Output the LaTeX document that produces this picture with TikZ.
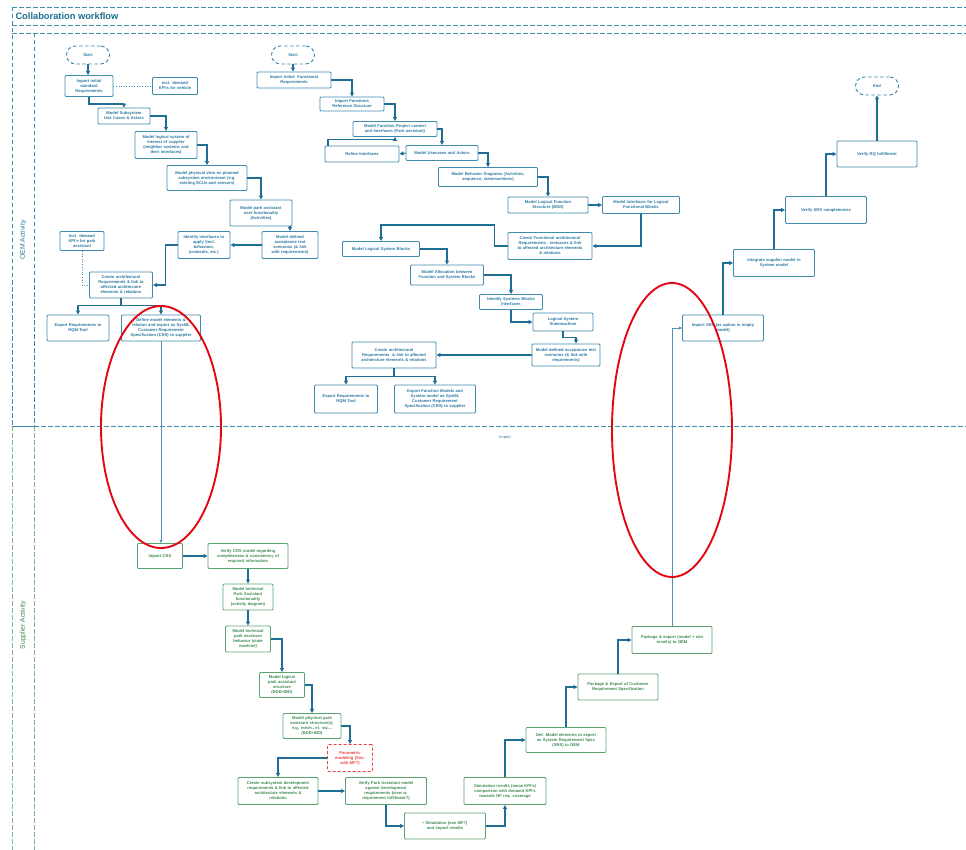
\documentclass[tikz,border=0pt]{standalone}
\usepackage{fontspec}
\setmainfont{Liberation Sans}
\usetikzlibrary{arrows.meta}

\definecolor{oemline}{HTML}{3F8BAE}
\definecolor{oemtext}{HTML}{2A77A0}
\definecolor{arrowc}{HTML}{1E6E96}
\definecolor{supline}{HTML}{5BA36E}
\definecolor{suptext}{HTML}{3A8A4E}
\definecolor{redc}{HTML}{E30613}
\definecolor{redbox}{HTML}{E8423F}
\definecolor{lanesup}{HTML}{7DB68A}
\definecolor{titlec}{HTML}{1B6F92}

\begin{document}
\begin{tikzpicture}[x=1pt,y=-1pt,
  bfont/.style={font=\fontsize{4.1}{5}\selectfont\bfseries},
  base/.style={align=center, inner xsep=2pt, inner ysep=1pt, line width=0.95pt, rounded corners=1pt, bfont},
  obox/.style={base, draw=oemline, text=oemtext},
  sbox/.style={base, draw=supline, text=suptext},
  sz/.style 2 args={text width=#1pt, minimum height=#2pt},
  term/.style={draw=oemline, dash pattern=on 3.5pt off 2.5pt, line width=0.95pt, rounded corners=9pt,
    minimum width=43pt, minimum height=18pt, text=oemtext, bfont, inner sep=0pt},
  arr/.style={draw=arrowc, line width=1.1pt, -{Triangle[length=4pt,width=4pt]}},
  thinarr/.style={draw=arrowc!75, line width=0.6pt, -{Triangle[length=3.2pt,width=3.2pt]}},
  dotln/.style={draw=oemline, line width=0.6pt, dotted},
  lane/.style={dash pattern=on 4.5pt off 2.5pt, line width=0.9pt},
  ring/.style={draw=redc, line width=1.9pt},
]
\useasboundingbox (0,0) rectangle (966,850);

% ---------- frame and swimlanes ----------
\draw[lane, oemline] (12,7) -- (966,7);
\draw[lane, oemline] (12,25) -- (966,25);
\draw[lane, oemline] (12,33) -- (966,33);
\draw[lane, oemline] (12,7) -- (12,426);
\draw[lane, oemline] (34,33) -- (34,426);
\draw[lane, lanesup] (12,426) -- (12,850);
\draw[lane, lanesup] (34,426) -- (34,850);
\draw[lane, oemline] (34,426) -- (966,426);
\draw[oemline, line width=0.9pt] (12,426) -- (34,426);
\node[anchor=west, text=titlec, font=\fontsize{9.3}{11}\selectfont\bfseries] (title) at (12,16) {Collaboration workflow};
\node[rotate=90, text=oemtext, font=\fontsize{6.8}{8}\selectfont] (oemlab) at (23,240) {OEM Activity};
\node[rotate=90, text=suptext, font=\fontsize{6.8}{8}\selectfont] (suplab) at (23,625) {Supplier Activity};
\node[text=oemtext, font=\fontsize{4}{5}\selectfont] (importlab) at (505,438) {Import};

% ---------- OEM: left branch ----------
\node[term] (start1) at (88,55) {Start};
\node[obox, sz={44}{21}] (n1) at (89,86) {Import initial\\standard\\Requirements};
\node[obox, sz={41}{17}] (kpi1) at (175,86) {Incl. demand\\KPI's for vehicle};
\node[obox, sz={48}{16}] (n2) at (124,116) {Model Subsystem\\Use Cases \& Actors};
\node[obox, sz={58}{27}] (n3) at (166,145) {Model logical system of\\interest of supplier\\(neighbor systems and\\their interfaces)};
\node[obox, sz={76}{25}] (n4) at (207,178) {Model physical view on planned\\subsystem environment (e.g.\\existing ECUs and sensors)};
\node[obox, sz={58}{26}] (n5) at (261,213) {Model park assistant\\user functionality\\(Activities)};
\node[obox, sz={52}{27}] (n6) at (290,245) {Model defined\\acceptance test\\scenarios (\& link\\with requirements)};
\node[obox, sz={48}{27}] (n7) at (204,245) {Identify interfaces to\\apply (incl.\\behaviour,\\protocols, etc.)};
\node[obox, sz={40}{19}] (kpi2) at (82,241) {Incl. demand\\KPI's for park\\assistant};
\node[obox, sz={59}{26}] (n8) at (121,285) {Create architectural\\Requirements \& link to\\affected architecture\\elements \& relations};
\node[obox, sz={58}{26}] (n9) at (78,328) {Export Requirements to\\RQM-Tool};
\node[obox, sz={75}{26}] (n10) at (161,328) {Define model elements \&\\relation and export as SysML\\Customer Requirement\\Specification (CRS) to supplier};

\draw[arr] (start1.south) -- (start1.south |- n1.north);
\draw[dotln] (n1.east) -- (kpi1.west);
\draw[arr] (n1.south) -- ++(0,7) -| (n2.north);
\draw[arr] (n2.east) -| (n3.north);
\draw[arr] (n3.east) -| (n4.north);
\draw[arr] (n4.east) -| (n5.north);
\draw[arr] (n5.south -| n6.north) -- (n6.north);
\draw[arr] (n6.west) -- (n7.east);
\draw[arr] (n7.west) -- ++(-12,0) |- (n8.east);
\draw[dotln] (kpi2.south) |- (n8.west);
\draw[arr, -] (n8.south) -- ++(0,7) coordinate (n8split);
\draw[arr] (n8split) -| (n9.north);
\draw[arr] (n8split) -| (n10.north);

% ---------- OEM: function / system branch ----------
\node[term] (start2) at (293,55) {Start};
\node[obox, sz={70}{16}] (m1) at (294,80) {Import Initial~ Functional\\Requirements};
\node[obox, sz={60}{14}] (m2) at (352,104) {Import Functions\\Reference Structure};
\node[obox, sz={80}{15}] (m3) at (395,129) {Model Function Project context\\and Interfaces (Park assistant)};
\node[obox, sz={70}{16}] (m4) at (362,154) {Refine Interfaces};
\node[obox, sz={68}{15}] (m5) at (442,153) {Model Usecases and Actors};
\node[obox, sz={95}{19}] (m6) at (488,177) {Model Behavior Diagrams (Activities,\\sequence, statemachines)};
\node[obox, sz={76}{16}] (m7) at (548,205) {Model Logical Function\\Structure (BDD)};
\node[obox, sz={73}{17}] (m8) at (641,205) {Model Interfaces for Logical\\Functional Blocks};
\node[obox, sz={80}{27}] (m9) at (550,246) {Create Functional architectural\\Requirements , testcases \& link\\to affected architecture elements\\\& relations};
\node[obox, sz={73}{15}] (m10) at (381,249) {Model Logical System Blocks};
\node[obox, sz={69}{20}] (m11) at (447,275) {Model Allocation between\\Function and System Blocks};
\node[obox, sz={59}{15}] (m12) at (511,302) {Identify Systems Blocks\\Interfaces};
\node[obox, sz={56}{18}] (m13) at (563,322) {Logical System\\Statemachine};
\node[obox, sz={64}{22}] (m14) at (566,355) {Model defined acceptance test\\scenarios (\& link with\\requirements)};
\node[obox, sz={80}{26}] (m15) at (394,355) {Create architectural\\Requirements~ \& link to affected\\architecture elements \& relations};
\node[obox, sz={59}{28}] (m16) at (346,399) {Export Requirements to\\RQM Tool};
\node[obox, sz={77}{28}] (m17) at (435,399) {Export Function Models and\\System model as SysML\\Customer Requirement\\Specification (CRS) to supplier};

\draw[arr] (start2.south) -- (start2.south |- m1.north);
\draw[arr] (m1.east) -| (m2.north);
\draw[arr] (m2.east) -| (m3.north);
\draw[arr] (m3.east) -| (m5.north);
\draw[arr] (m5.west) -- (m4.east);
\draw[arr] ([xshift=-34pt]m4.north) -- ++(0,-6) -| (m3.south);
\draw[arr] (m5.east) -| (m6.north);
\draw[arr] (m6.east) -| (m7.north);
\draw[arr] (m7.east) -- (m8.west);
\draw[arr] (m8.south) |- (m9.east);
\draw[arr] (m9.west) -- ++(-13,0) -- ++(0,-21) -| (m10.north);
\draw[arr] (m10.east) -| (m11.north);
\draw[arr] (m11.east) -| (m12.north);
\draw[arr] (m12.south) |- (m13.west);
\draw[arr] (m13.south) -- ++(0,6) -| ([xshift=10pt]m14.north);
\draw[arr] (m14.west) -- (m15.east);
\draw[arr, -] (m15.south) -- ++(0,8) coordinate (m15split);
\draw[arr] (m15split) -| (m16.north);
\draw[arr] (m15split) -| (m17.north);

% ---------- OEM: integration branch ----------
\node[term] (end) at (877,86) {End};
\node[obox, sz={76}{26}] (r4) at (877,154) {Verify RQ fulfillment};
\node[obox, sz={77}{27}] (r3) at (826,210) {Verify SRS completeness};
\node[obox, sz={77}{27}] (r2) at (774,263) {Integrate supplier model in\\System model};
\node[obox, sz={77}{26}] (r1) at (723,328) {Import SRS (as option in empty\\model)};

\draw[arr] (r1.north) |- (r2.west);
\draw[arr] (r2.north) |- (r3.west);
\draw[arr] (r3.north) |- (r4.west);
\draw[arr] (r4.north) -- (end.south);

% ---------- Supplier activity ----------
\node[sbox, sz={41}{25}] (s1) at (160,556) {Import CRS};
\node[sbox, sz={76}{25}] (s2) at (248,556) {Verify CRS model regarding\\completeness \& consistency of\\required information};
\node[sbox, sz={46}{26}] (s3) at (248,597) {Model technical\\Park Assistant\\functionality\\(activity diagram)};
\node[sbox, sz={41}{26}] (s4) at (248,639) {Model technical\\park assistant\\behavior (state\\machine)};
\node[sbox, sz={41}{25}] (s5) at (282,685) {Model logical\\park assistant\\structure\\(BDD+IBD)};
\node[sbox, sz={54}{25}] (s6) at (312,726) {Model physical park\\assistant structure(s),\\e.g. mech., el. sw....\\(BDD+IBD)};
\node[base, draw=redbox, text=redbox, dash pattern=on 3pt off 2pt, sz={41}{27}] (s7) at (350,758) {Parametric\\modeling (Sim.\\with MF?)};
\node[sbox, sz={76}{27}] (s8) at (278,791) {Create subsystem development\\requirements \& link to affected\\architecture elements \&\\relations};
\node[sbox, sz={77}{27}] (s9) at (386,791) {Verify Park Assistant model\\against development\\requirements (view w.\\requirement fulfilment?)};
\node[sbox, sz={77}{26}] (s10) at (445,826) {• Simulation (use MF?)\\and import results};
\node[sbox, sz={78}{27}] (s11) at (505,791) {Simulation results (meas KPI's)\\comparison with demand KPI's\\towards NF req. coverage};
\node[sbox, sz={76}{25}] (s12) at (566,740) {Def. Model elements to export\\as System Requirement Spec\\(SRS) to OEM};
\node[sbox, sz={76}{26}] (s13) at (618,687) {Package \& Export of Customer\\Requirement Specification};
\node[sbox, sz={76}{27}] (s14) at (672,640) {Package \& export (model + sim\\results) to OEM};

\draw[arr] (s1.east) -- (s2.west);
\draw[arr] (s2.south) -- (s3.north);
\draw[arr] (s3.south) -- (s4.north);
\draw[arr] (s4.east) -| (s5.north);
\draw[arr] (s5.east) -| (s6.north);
\draw[arr] (s6.east) -| (s7.north);
\draw[arr] (s7.west) -| (s8.north);
\draw[arr] (s8.east) -- (s9.west);
\draw[arr] (s9.south) |- (s10.west);
\draw[arr] (s10.east) -| (s11.south);
\draw[arr] (s11.north) |- (s12.west);
\draw[arr] (s12.north) |- (s13.west);
\draw[arr] (s13.north) |- (s14.west);

% ---------- hand-over between lanes ----------
\draw[thinarr] (n10.south) -- (n10.south |- s1.north);
\draw[thinarr] (s14.north) |- (r1.west);

% ---------- red highlight rings ----------
\draw[ring] (161,427) ellipse [x radius=60, y radius=121];
\draw[ring] (672,430) ellipse [x radius=60, y radius=147];
\end{tikzpicture}
\end{document}
